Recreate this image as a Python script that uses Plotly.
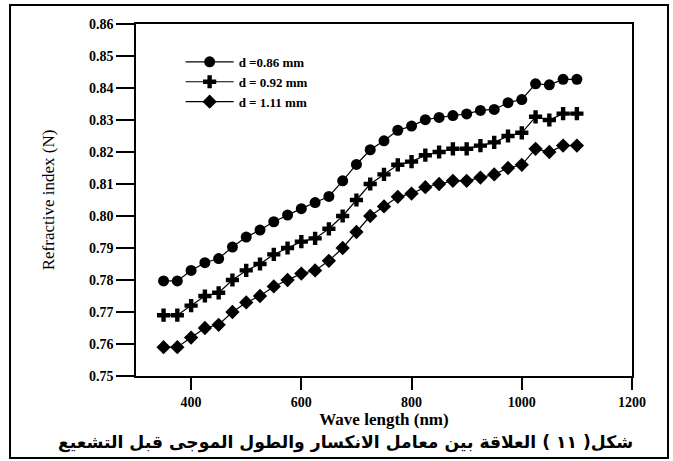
import plotly.graph_objects as go

wavelength = [350, 375, 400, 425, 450, 475, 500, 525, 550, 575, 600, 625, 650, 675, 700,
              725, 750, 775, 800, 825, 850, 875, 900, 925, 950, 975, 1000, 1025, 1050, 1075, 1100]

n_086 = [0.7797, 0.7797, 0.7830, 0.7854, 0.7867, 0.7903, 0.7934, 0.7956, 0.7982, 0.8003,
         0.8023, 0.8042, 0.8061, 0.8110, 0.8161, 0.8207, 0.8235, 0.8268, 0.8281, 0.8301,
         0.8308, 0.8314, 0.8319, 0.8330, 0.8333, 0.8354, 0.8364, 0.8413, 0.8410, 0.8427, 0.8427]

n_092 = [0.769, 0.769, 0.772, 0.775, 0.776, 0.780, 0.783, 0.785, 0.788, 0.790,
         0.792, 0.793, 0.796, 0.800, 0.805, 0.810, 0.813, 0.816, 0.817, 0.819,
         0.820, 0.821, 0.821, 0.822, 0.823, 0.825, 0.826, 0.831, 0.830, 0.832, 0.832]

n_111 = [0.759, 0.759, 0.762, 0.765, 0.766, 0.770, 0.773, 0.775, 0.778, 0.780,
         0.782, 0.783, 0.786, 0.790, 0.795, 0.800, 0.803, 0.806, 0.807, 0.809,
         0.810, 0.811, 0.811, 0.812, 0.813, 0.815, 0.816, 0.821, 0.820, 0.822, 0.822]

series_names = ["d =0.86 mm", "d = 0.92 mm", "d = 1.11 mm"]
series_symbols = ["circle", "cross", "diamond"]

x_ticks = [400, 600, 800, 1000, 1200]
y_ticks = [0.75, 0.76, 0.77, 0.78, 0.79, 0.80, 0.81, 0.82, 0.83, 0.84, 0.85, 0.86]

caption = "شكل( ١١ ) العلاقة بين معامل الانكسار والطول الموجى قبل التشعيع"

serif = "Liberation Serif, Times New Roman, serif"

fig = go.Figure()
for name, ys, sym in zip(series_names, [n_086, n_092, n_111], series_symbols):
    fig.add_trace(go.Scatter(
        x=wavelength, y=ys, name=name, mode="lines+markers",
        line=dict(color="black", width=1.2),
        marker=dict(symbol=sym, size=11, color="black", line=dict(width=0)),
    ))

fig.update_layout(
    width=673, height=461,
    margin=dict(l=136, r=41, t=24, b=85),
    paper_bgcolor="white", plot_bgcolor="white",
    font=dict(family=serif, color="black"),
    showlegend=True,
    legend=dict(
        x=0.09, y=0.935, xanchor="left", yanchor="top",
        bgcolor="rgba(0,0,0,0)", borderwidth=0,
        font=dict(family=serif, size=13, color="black", weight="bold"),
        itemwidth=48, tracegroupgap=0,
    ),
    xaxis=dict(
        range=[300, 1200], tickvals=x_ticks, ticktext=[str(v) for v in x_ticks],
        showgrid=False, zeroline=False,
        showline=True, linecolor="black", linewidth=1.5, mirror=True,
        ticks="outside", ticklen=12, tickwidth=1.5, tickcolor="black",
        tickfont=dict(family=serif, size=14, color="black", weight="bold"),
        title=dict(text="Wave length (nm)", standoff=3,
                   font=dict(family=serif, size=17, color="black", weight="bold")),
    ),
    yaxis=dict(
        range=[0.75, 0.86], tickvals=y_ticks, ticktext=[f"{v:.2f}" for v in y_ticks],
        showgrid=False, zeroline=False,
        showline=True, linecolor="black", linewidth=1.5, mirror=True,
        ticks="outside", ticklen=18, tickwidth=1.5, tickcolor="black",
        tickfont=dict(family=serif, size=14, color="black", weight="bold"),
        title=dict(text="Refractive index (N)", standoff=30,
                   font=dict(family=serif, size=17, color="black")),
    ),
)

fig.add_annotation(
    text=caption, xref="paper", yref="paper", x=0.423, y=-0.19,
    xanchor="center", yanchor="middle", showarrow=False,
    font=dict(family="DejaVu Sans, Noto Sans, sans-serif", size=17.2, color="black", weight="bold"),
)

fig.add_shape(
    type="rect", xref="paper", yref="paper",
    x0=-0.254, x1=1.0726, y0=-0.233, y1=1.054,
    line=dict(color="black", width=2), fillcolor="rgba(0,0,0,0)", layer="above",
)

fig.write_html("out.html")
